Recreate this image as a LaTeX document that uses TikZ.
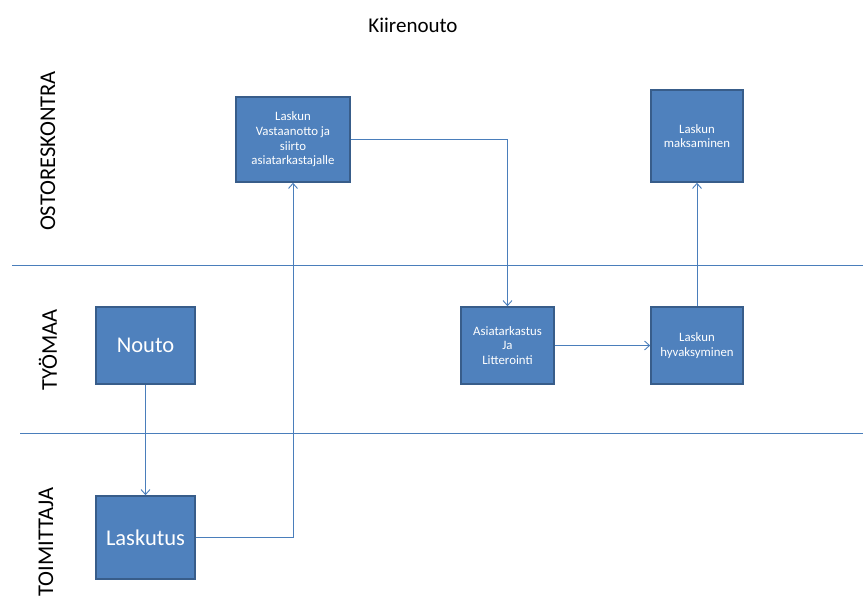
\documentclass[tikz,border=0pt]{standalone}
\usepackage{fontspec}
\setmainfont{Carlito}
\usetikzlibrary{arrows.meta}
\definecolor{boxfill}{HTML}{4F81BD}
\definecolor{boxline}{HTML}{385D8A}
\definecolor{conn}{HTML}{4A7EBB}
\begin{document}
\begin{tikzpicture}[x=1pt,y=-1pt,
  proc/.style={draw=boxline,line width=1.6pt,fill=boxfill,text=white,align=center,inner sep=0pt},
  small/.style={font=\fontsize{12.8}{14.7}\selectfont},
  big/.style={font=\fontsize{22.5}{26}\selectfont},
  lane/.style={rotate=90,font=\fontsize{22.5}{26}\selectfont},
  flow/.style={draw=conn,line width=0.9pt,-{Straight Barb[length=5pt,width=9pt]}},
  sep/.style={draw=conn,line width=1pt}]
\useasboundingbox (0,0) rectangle (863,597);
\node[font=\fontsize{21}{24}\selectfont] (title) at (413,25) {Kiirenouto};
\coordinate (s1a) at (12,265); \coordinate (s1b) at (863,265);
\coordinate (s2a) at (20,433); \coordinate (s2b) at (863,433);
\draw[sep] (s1a) -- (s1b);
\draw[sep] (s2a) -- (s2b);
\node[lane] (l1) at (48,151) {OSTORESKONTRA};
\node[lane] (l2) at (48,350) {TYÖMAA};
\node[lane] (l3) at (46,542) {TOIMITTAJA};
\node[proc,small,minimum width=114pt,minimum height=85pt] (vast) at (293,139.5) {Laskun\\Vastaanotto ja\\siirto\\asiatarkastajalle};
\node[proc,small,minimum width=92pt,minimum height=92pt] (maks) at (697,136) {Laskun\\maksaminen};
\node[proc,big,minimum width=99pt,minimum height=77pt] (nouto) at (145.5,345.5) {\raisebox{-2pt}{Nouto}};
\node[proc,small,minimum width=93pt,minimum height=77pt] (asia) at (507.5,345.5) {Asiatarkastus\\Ja\\Litterointi};
\node[proc,small,minimum width=92pt,minimum height=77pt] (hyv) at (697,345.5) {Laskun\\hyvaksyminen};
\node[proc,big,minimum width=99pt,minimum height=83pt] (lask) at (145.5,537.5) {Laskutus};
\draw[flow] (nouto) -- (lask);
\draw[flow] (lask.east) -| (vast.south);
\draw[flow] (vast.east) -| (asia.north);
\draw[flow] (asia) -- (hyv);
\draw[flow] (hyv) -- (maks);
\end{tikzpicture}
\end{document}
